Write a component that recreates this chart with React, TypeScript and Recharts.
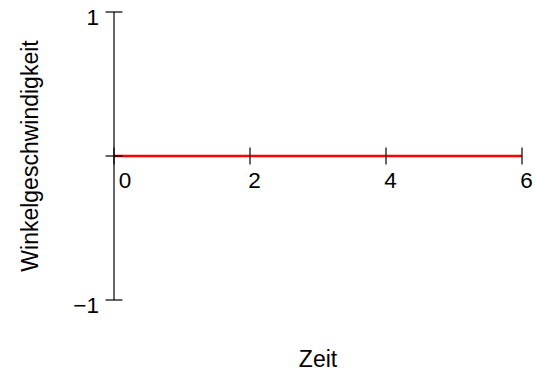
import React from 'react';
import { LineChart, Line, XAxis, YAxis, ReferenceDot, ReferenceLine } from 'recharts';

// ---- data ----
const timeValues = [0, 1, 2, 3, 4, 5, 6];
const angularVelocity = [0, 0, 0, 0, 0, 0, 0];
const xTicks = [0, 2, 4, 6];
const xTickLabels = ['0', '2', '4', '6'];
const yTicks = [-1, 0, 1];
const yTickLabels = ['\u22121', '', '1'];
const xLabel = 'Zeit';
const yLabel = 'Winkelgeschwindigkeit';

const data = timeValues.map((t, i) => ({ t, w: angularVelocity[i] }));

const FONT = '"Liberation Sans", Arial, Helvetica, sans-serif';
const TICK_FS = 22.5;
const LABEL_FS = 23;
const HALF_TICK = 8.5;

const YTick = (props: any) => {
  const { x, y, payload } = props;
  const idx = yTicks.indexOf(payload.value);
  const label = idx >= 0 ? yTickLabels[idx] : '';
  return (
    <g>
      <line x1={x - HALF_TICK} x2={x + HALF_TICK} y1={y} y2={y} stroke="#000" strokeWidth={1.2} />
      {label && (
        <text x={x - 15} y={y + 13} textAnchor="end" fontFamily={FONT} fontSize={TICK_FS} fill="#000">
          {label}
        </text>
      )}
    </g>
  );
};

const makeXTickShape = (value: number, label: string) => (props: any) => {
  const { cx, cy } = props;
  const shift = value === 0 ? 11 : 4.5;
  return (
    <g>
      <line x1={cx} x2={cx} y1={cy - HALF_TICK} y2={cy + HALF_TICK} stroke="#000" strokeWidth={1.2} />
      <text x={cx + shift} y={cy + 31.5} textAnchor="middle" fontFamily={FONT} fontSize={TICK_FS} fill="#000">
        {label}
      </text>
    </g>
  );
};

export default function App() {
  return (
    <div style={{ position: 'absolute', left: 0, top: 0, background: '#fff' }}>
      <LineChart
        width={535}
        height={376}
        data={data}
        margin={{ top: 12, right: 13, bottom: 0, left: 0 }}
      >
        <XAxis
          dataKey="t"
          type="number"
          domain={[0, 6]}
          ticks={xTicks}
          height={76}
          axisLine={false}
          tickLine={false}
          tick={false}
          label={{
            value: xLabel,
            position: 'insideBottom',
            offset: 9,
            style: { fontFamily: FONT, fontSize: LABEL_FS, fill: '#000' },
          }}
        />
        <YAxis
          type="number"
          domain={[-1, 1]}
          ticks={yTicks}
          width={114}
          axisLine={{ stroke: '#000', strokeWidth: 1.2 }}
          tickLine={false}
          tickSize={0}
          tickMargin={0}
          tick={<YTick />}
          label={{
            value: yLabel,
            angle: -90,
            position: 'insideLeft',
            offset: 30,
            style: { fontFamily: FONT, fontSize: LABEL_FS, fill: '#000', textAnchor: 'middle' },
          }}
        />
        <ReferenceLine y={0} stroke="#000" strokeWidth={1.2} />
        {xTicks.map((t, i) => (
          <ReferenceDot key={t} x={t} y={0} r={0} shape={makeXTickShape(t, xTickLabels[i])} />
        ))}
        <Line
          dataKey="w"
          stroke="#ff0000"
          strokeWidth={2.5}
          dot={false}
          isAnimationActive={false}
        />
      </LineChart>
    </div>
  );
}
